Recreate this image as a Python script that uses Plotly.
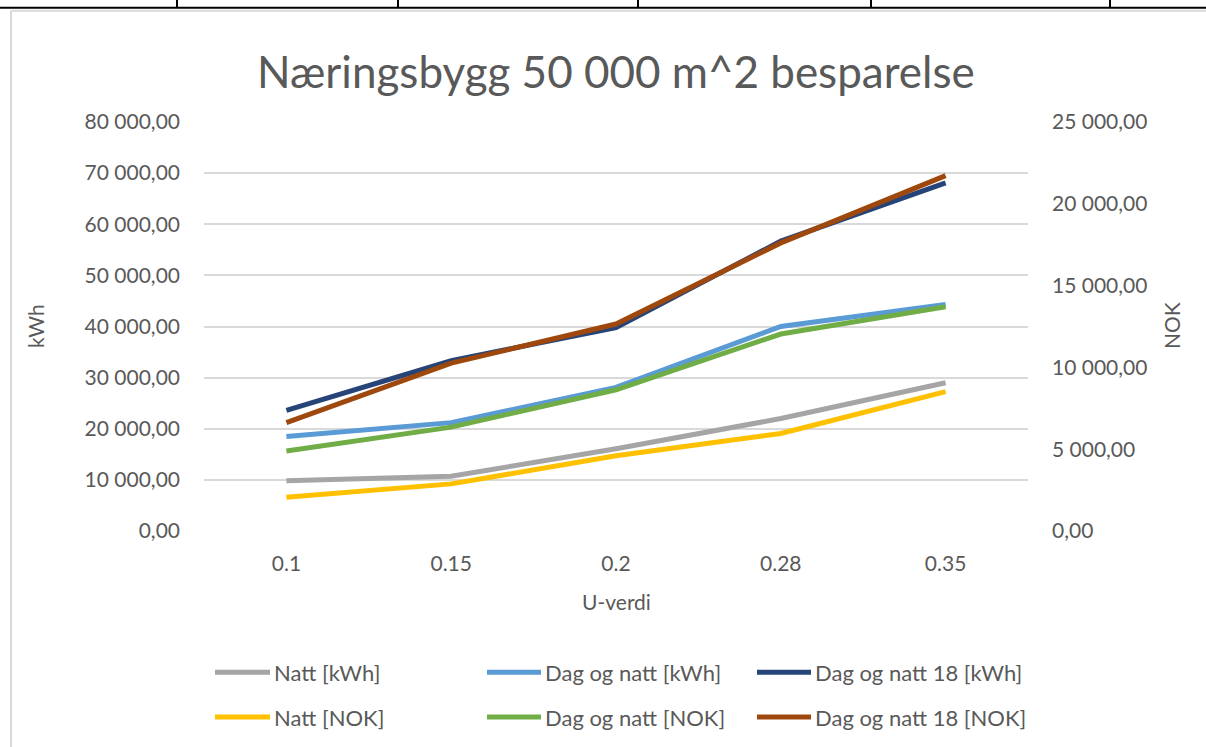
import plotly.graph_objects as go

# U-values (category axis)
u_values = ["0.1", "0.15", "0.2", "0.28", "0.35"]

# Savings in kWh (left axis)
natt_kwh = [9850, 10700, 16100, 22000, 29000]
dag_natt_kwh = [18500, 21200, 28100, 40000, 44300]
dag_natt_18_kwh = [23600, 33300, 39800, 56700, 68100]

# Savings in NOK (right axis)
natt_nok = [2060, 2880, 4600, 5960, 8520]
dag_natt_nok = [4890, 6350, 8630, 12040, 13710]
dag_natt_18_nok = [6630, 10260, 12650, 17610, 21720]

series_names = [
    "Natt [kWh]", "Dag og natt [kWh]", "Dag og natt 18 [kWh]",
    "Natt [NOK]", "Dag og natt [NOK]", "Dag og natt 18 [NOK]",
]
series_colors = ["#A5A5A5", "#5B9BD5", "#264478", "#FFC000", "#70AD47", "#9E480E"]

left_ticks = [0, 10000, 20000, 30000, 40000, 50000, 60000, 70000, 80000]
right_ticks = [0, 5000, 10000, 15000, 20000, 25000]


def nok_fmt(v):
    return f"{v:,.2f}".replace(",", " ").replace(".", ",")


FONT = "Lato"
TXT = "#595959"
FS = 21
W, H = 1206, 747
L, R, T, B = 204, 178, 121.5, 215.5
PW, PH = W - L - R, H - T - B


def px(x):
    return (x - L) / PW


def py(y):
    return (H - B - y) / PH


fig = go.Figure()
data = [natt_kwh, dag_natt_kwh, dag_natt_18_kwh, natt_nok, dag_natt_nok, dag_natt_18_nok]
for i, (name, vals, col) in enumerate(zip(series_names, data, series_colors)):
    fig.add_trace(go.Scatter(
        x=u_values, y=vals, name=name, mode="lines",
        line=dict(color=col, width=5),
        yaxis="y" if i < 3 else "y2",
        showlegend=False,
    ))

shapes = []
annotations = []

# Legend drawn as line samples + labels in two rows of three
rows_y = [673, 718]
cols_x = [(215, 270), (487, 541), (757, 811)]
for i, (name, col) in enumerate(zip(series_names, series_colors)):
    r, c = divmod(i, 3)
    x0, x1 = cols_x[c]
    yy = rows_y[r]
    shapes.append(dict(type="line", xref="paper", yref="paper",
                       x0=px(x0), x1=px(x1), y0=py(yy), y1=py(yy),
                       line=dict(color=col, width=5)))
    annotations.append(dict(text=name, xref="paper", yref="paper",
                            x=px(x1 + 2), y=py(yy), xanchor="left", yanchor="middle",
                            showarrow=False, font=dict(family=FONT, size=22, color=TXT)))

# Axis titles
annotations.append(dict(text="kWh", xref="paper", yref="paper", x=px(35), y=py(326),
                        textangle=-90, showarrow=False, xanchor="center", yanchor="middle",
                        font=dict(family=FONT, size=FS, color=TXT)))
annotations.append(dict(text="NOK", xref="paper", yref="paper", x=px(1171), y=py(326),
                        textangle=-90, showarrow=False, xanchor="center", yanchor="middle",
                        font=dict(family=FONT, size=FS, color=TXT)))
annotations.append(dict(text="U-verdi", xref="paper", yref="paper", x=px(616), y=py(602),
                        showarrow=False, xanchor="center", yanchor="middle",
                        font=dict(family=FONT, size=FS, color=TXT)))
annotations.append(dict(text="Næringsbygg 50 000 m^2 besparelse", xref="paper", yref="paper",
                        x=px(616), y=py(70), showarrow=False, xanchor="center", yanchor="middle",
                        font=dict(family=FONT, size=44, color=TXT)))

# Sheet cell borders at the top and the chart frame
shapes.append(dict(type="line", xref="paper", yref="paper", x0=px(11), x1=px(W + 5),
                   y0=py(10), y1=py(10), line=dict(color="#D9D9D9", width=2)))
shapes.append(dict(type="line", xref="paper", yref="paper", x0=px(11), x1=px(11),
                   y0=py(10), y1=py(H + 5), line=dict(color="#D9D9D9", width=2)))
shapes.append(dict(type="line", xref="paper", yref="paper", x0=px(-5), x1=px(W + 5),
                   y0=py(7), y1=py(7), line=dict(color="#000000", width=2)))
for xc in [177, 398, 638, 871, 1110]:
    shapes.append(dict(type="line", xref="paper", yref="paper", x0=px(xc), x1=px(xc),
                       y0=py(-5), y1=py(7), line=dict(color="#000000", width=2)))

fig.update_layout(
    width=W, height=H,
    margin=dict(l=L, r=R, t=T, b=B),
    paper_bgcolor="white", plot_bgcolor="white",
    font=dict(family=FONT, color=TXT, size=FS),
    showlegend=False,
    xaxis=dict(type="category", range=[-0.5, 4.5], showgrid=False, zeroline=False,
               showline=False, ticks="", tickfont=dict(size=FS, color=TXT),
               ticklabelstandoff=18),
    yaxis=dict(range=[0, 80000], tickvals=left_ticks,
               ticktext=[nok_fmt(v) for v in left_ticks],
               showgrid=True, gridcolor="#D9D9D9", gridwidth=1.5, zeroline=False,
               showline=False, ticks="", tickfont=dict(size=FS, color=TXT),
               ticklabelstandoff=23),
    yaxis2=dict(range=[0, 25000], tickvals=right_ticks,
                ticktext=[nok_fmt(v) for v in right_ticks],
                overlaying="y", side="right", showgrid=False, zeroline=False,
                showline=False, ticks="", tickfont=dict(size=FS, color=TXT),
                ticklabelstandoff=23),
    shapes=shapes,
    annotations=annotations,
)

fig.write_html("out.html")
